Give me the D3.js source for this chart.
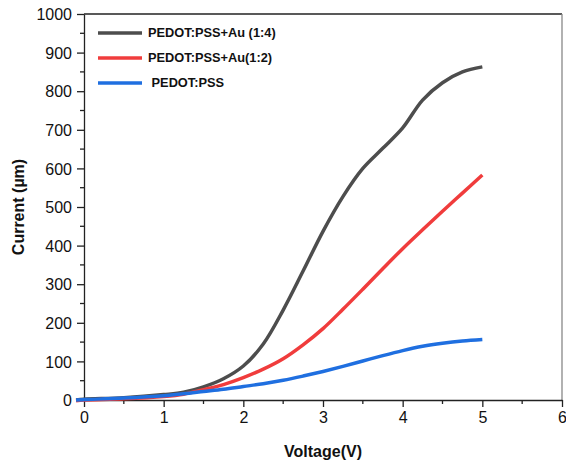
<!DOCTYPE html>
<html><head><meta charset="utf-8">
<script src="https://cdn.jsdelivr.net/npm/d3@7"></script>
<style>body{margin:0;background:#fff}svg{display:block;font-family:"Liberation Sans",Arial,sans-serif}</style>
</head><body><svg id="c" width="566" height="463"></svg>
<script>
const voltage = [-0.1, 0, 0.5, 1, 1.25, 1.5, 1.75, 2, 2.25, 2.5, 2.75, 3, 3.25, 3.5, 3.75, 4, 4.25, 4.5, 4.75, 5];
const au14 = [0, 2, 6, 14, 20, 34, 55, 88, 145, 233, 334, 437, 527, 600, 652, 705, 777, 822, 850, 863];
const au12 = [-2, 0, 3, 9, 15, 27, 40, 58, 80, 107, 143, 185, 235, 287, 340, 392, 441, 489, 536, 583];
const pedot = [0, 1, 5, 11, 16, 22, 28, 35, 42, 51, 62, 74, 87, 101, 115, 128, 139, 147, 153, 157];
const seriesNames = ["PEDOT:PSS+Au (1:4)", "PEDOT:PSS+Au(1:2)", " PEDOT:PSS"];
const seriesColors = ["#4d4d4d", "#f03c3c", "#1f6fe0"];
const xTicks = [0, 1, 2, 3, 4, 5, 6];
const yTicks = [0, 100, 200, 300, 400, 500, 600, 700, 800, 900, 1000];

const svg = d3.select("#c");
const L = 84, R = 562, T = 14, B = 400;
const x = d3.scaleLinear().domain([0, 6]).range([L, R]);
const y = d3.scaleLinear().domain([0, 1000]).range([B, T]);

// frame top/right
svg.append("line").attr("x1", L).attr("x2", R).attr("y1", T).attr("y2", T).attr("stroke", "#222").attr("stroke-width", 1.3);
svg.append("line").attr("x1", R).attr("x2", R).attr("y1", T).attr("y2", B).attr("stroke", "#888").attr("stroke-width", 1.3);

// minor ticks
const gMin = svg.append("g").attr("stroke", "#222").attr("stroke-width", 1.3);
d3.range(0.5, 6, 1).forEach(v => gMin.append("line").attr("x1", x(v)).attr("x2", x(v)).attr("y1", B).attr("y2", B + 4));
d3.range(50, 1000, 100).forEach(v => gMin.append("line").attr("y1", y(v)).attr("y2", y(v)).attr("x1", L).attr("x2", L - 4));

const xAxis = svg.append("g").attr("transform", `translate(0,${B})`)
  .call(d3.axisBottom(x).tickValues(xTicks).tickFormat(d3.format("d")).tickSizeInner(7).tickSizeOuter(0).tickPadding(5));
const yAxis = svg.append("g").attr("transform", `translate(${L},0)`)
  .call(d3.axisLeft(y).tickValues(yTicks).tickFormat(d3.format("d")).tickSizeInner(7).tickSizeOuter(0).tickPadding(5));
[xAxis, yAxis].forEach(g => {
  g.selectAll("path,line").attr("stroke", "#222").attr("stroke-width", 1.3);
  g.selectAll("text").attr("font-size", 16).attr("fill", "#111").attr("font-family", "Liberation Sans, Arial, sans-serif");
});
yAxis.selectAll("text").attr("dy", "0.35em");

const data = [au14, au12, pedot];
const line = d3.line().x((d, i) => x(voltage[i])).y(d => y(d)).curve(d3.curveCatmullRom.alpha(0.5));
data.forEach((s, k) => {
  svg.append("path").datum(s).attr("d", line).attr("fill", "none")
    .attr("stroke", seriesColors[k]).attr("stroke-width", 3.5).attr("stroke-linejoin", "round");
});

// legend
const ly = [33, 58, 83];
seriesNames.forEach((n, k) => {
  svg.append("line").attr("x1", 98).attr("x2", 142).attr("y1", ly[k]).attr("y2", ly[k])
    .attr("stroke", seriesColors[k]).attr("stroke-width", 3.5);
  svg.append("text").attr("x", 148).attr("y", ly[k]).attr("dy", "0.35em")
    .attr("font-size", 12.8).attr("font-weight", "bold").attr("fill", "#111")
    .attr("xml:space", "preserve").style("white-space", "pre").text(n);
});

svg.append("text").attr("x", (L + R) / 2).attr("y", 457).attr("text-anchor", "middle")
  .attr("font-size", 16).attr("font-weight", "bold").attr("fill", "#111").text("Voltage(V)");
svg.append("text").attr("transform", `translate(24,${(T + B) / 2}) rotate(-90)`).attr("text-anchor", "middle")
  .attr("font-size", 16).attr("font-weight", "bold").attr("fill", "#111").text("Current (µm)");
</script></body></html>
